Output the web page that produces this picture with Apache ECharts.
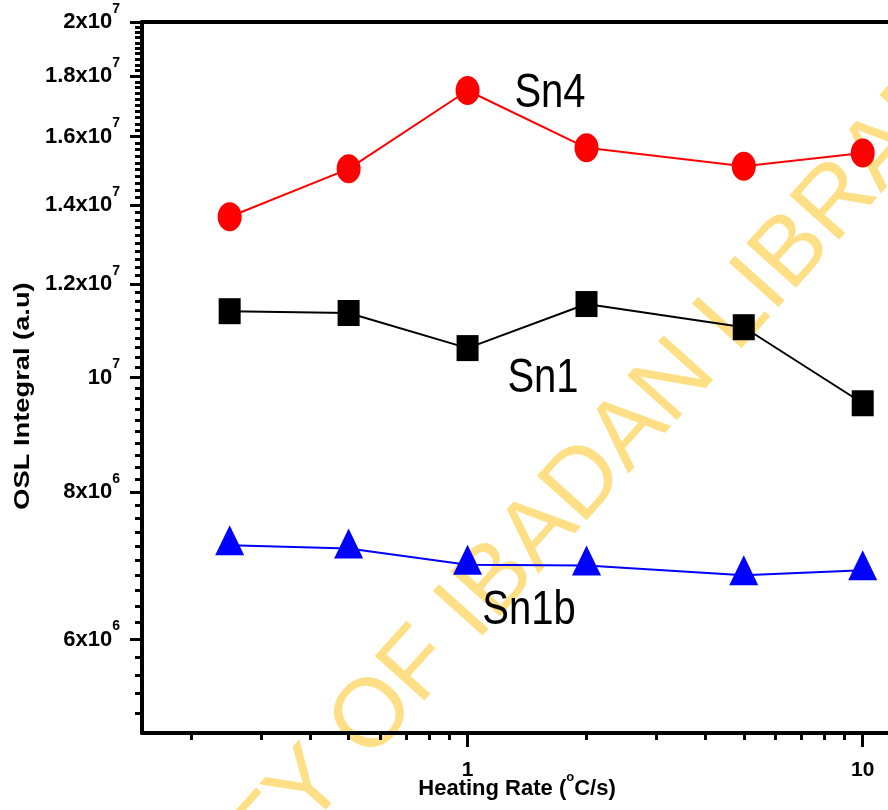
<!DOCTYPE html>
<html>
<head>
<meta charset="utf-8">
<script src="https://cdn.jsdelivr.net/npm/echarts@6/dist/echarts.min.js"></script>
<style>
  html, body { margin: 0; padding: 0; background: #ffffff; }
  #chart { width: 888px; height: 810px; }
</style>
</head>
<body>
<div id="chart"></div>
<script>
// Heating rates (°C/s) and OSL integrals (a.u) for the three samples
const heatingRates = [0.25, 0.5, 1, 2, 5, 10];
const sn4  = [1.368e7, 1.502e7, 1.750e7, 1.565e7, 1.510e7, 1.549e7];
const sn1  = [1.138e7, 1.134e7, 1.059e7, 1.154e7, 1.103e7, 9.51e6];
const sn1b = [7.21e6, 7.166e6, 6.94e6, 6.93e6, 6.80e6, 6.866e6];

// Axis ticks and their labels
const xMajorTicks  = [1, 10];
const xMajorLabels = ['1', '10'];
const xMinorTicks  = [0.2, 0.3, 0.4, 0.5, 0.6, 0.7, 0.8, 0.9, 2, 3, 4, 5, 6, 7, 8, 9];
const yMajorTicks  = [6e6, 8e6, 1e7, 1.2e7, 1.4e7, 1.6e7, 1.8e7, 2e7];
const yMajorMantissa = ['6x10', '8x10', '10', '1.2x10', '1.4x10', '1.6x10', '1.8x10', '2x10'];
const yMajorExponent = ['6', '6', '7', '7', '7', '7', '7', '7'];
const yMinorStep = 2e5;

const xMin = 0.15, xMax = 12;
const yMin = 5e6,  yMax = 2e7;

const FONT = '"Liberation Sans", Arial, Helvetica, sans-serif';

// minor y ticks every 2x10^5, skipping the labelled ones
const yMinorTicks = [];
for (let k = Math.round(yMin / yMinorStep) + 1; k < Math.round(yMax / yMinorStep); k++) {
  const v = k * yMinorStep;
  if (!yMajorTicks.some(t => Math.abs(t - v) < 1)) yMinorTicks.push(v);
}

function findIndex(list, value) {
  for (let i = 0; i < list.length; i++) {
    if (Math.abs(list[i] - value) / list[i] < 1e-6) return i;
  }
  return -1;
}

const pairs = ys => heatingRates.map((x, i) => [x, ys[i]]);

const chart = echarts.init(document.getElementById('chart'), null, { renderer: 'canvas' });

const axisBlack = { color: '#000000' };

const option = {
  animation: false,
  backgroundColor: '#ffffff',
  grid: {
    left: 142, top: 22, width: 752, height: 711,
    containLabel: false, outerBoundsMode: 'none'
  },
  xAxis: [
    {
      type: 'log', logBase: 10, min: xMin, max: xMax, position: 'bottom',
      axisLine: { onZero: false, lineStyle: { color: '#000', width: 4 } },
      axisTick: { customValues: xMajorTicks, length: 14, lineStyle: { color: '#000', width: 3 } },
      axisLabel: {
        customValues: xMajorTicks, margin: 27, color: '#000',
        fontFamily: FONT, fontWeight: 'bold', fontSize: 21,
        formatter: v => { const i = findIndex(xMajorTicks, v); return i < 0 ? '' : xMajorLabels[i]; }
      },
      splitLine: { show: false }, minorTick: { show: false }
    },
    {
      type: 'log', logBase: 10, min: xMin, max: xMax, position: 'bottom',
      axisLine: { show: false, onZero: false },
      axisTick: { customValues: xMinorTicks, length: 7, lineStyle: { color: '#000', width: 3 } },
      axisLabel: { show: false },
      splitLine: { show: false }
    },
    {
      type: 'log', logBase: 10, min: xMin, max: xMax, position: 'top',
      axisLine: { show: true, onZero: false, lineStyle: { color: '#000', width: 4 } },
      axisTick: { show: false }, axisLabel: { show: false }, splitLine: { show: false }
    }
  ],
  yAxis: [
    {
      type: 'log', logBase: 10, min: yMin, max: yMax, position: 'left',
      axisLine: { show: true, onZero: false, lineStyle: { color: '#000', width: 4 } },
      axisTick: { customValues: yMajorTicks, length: 12, lineStyle: { color: '#000', width: 3 } },
      axisLabel: {
        customValues: yMajorTicks, margin: 22, color: '#000',
        formatter: v => {
          const i = findIndex(yMajorTicks, v);
          return i < 0 ? '' : '{m|' + yMajorMantissa[i] + '}{s|' + yMajorExponent[i] + '}';
        },
        rich: {
          m: { fontFamily: FONT, fontWeight: 'bold', fontSize: 22, lineHeight: 40, color: '#000' },
          s: { fontFamily: FONT, fontWeight: 'bold', fontSize: 14, lineHeight: 14, verticalAlign: 'top', color: '#000' }
        }
      },
      splitLine: { show: false }, minorTick: { show: false }
    },
    {
      type: 'log', logBase: 10, min: yMin, max: yMax, position: 'left',
      axisLine: { show: false, onZero: false },
      axisTick: { customValues: yMinorTicks, length: 7, lineStyle: { color: '#000', width: 3 } },
      axisLabel: { show: false },
      splitLine: { show: false }
    }
  ],
  series: [
    {
      name: 'Sn4', type: 'line', xAxisIndex: 0, yAxisIndex: 0, z: 5,
      data: pairs(sn4), symbol: 'circle', symbolSize: [24, 29],
      itemStyle: { color: '#ff0000' }, lineStyle: { color: '#ff0000', width: 2 }
    },
    {
      name: 'Sn1', type: 'line', xAxisIndex: 0, yAxisIndex: 0, z: 5,
      data: pairs(sn1), symbol: 'rect', symbolSize: [22, 26],
      itemStyle: { color: '#000000' }, lineStyle: { color: '#000000', width: 2 }
    },
    {
      name: 'Sn1b', type: 'line', xAxisIndex: 0, yAxisIndex: 0, z: 5,
      data: pairs(sn1b), symbol: 'triangle', symbolSize: [29, 30], symbolOffset: [0, -5],
      itemStyle: { color: '#0000ff' }, lineStyle: { color: '#0000ff', width: 2 }
    }
  ],
  graphic: [
    {
      type: 'text', z: -100, x: 467, y: 613, rotation: 48 * Math.PI / 180,
      silent: true,
      style: {
        x: 0, y: 0, text: 'UNIVERSITY OF IBADAN LIBRARY',
        fontFamily: FONT, fontSize: 97, fill: '#FFDF85',
        align: 'center', verticalAlign: 'middle', textAlign: 'center', textVerticalAlign: 'middle'
      }
    },
    {
      type: 'text', z: 10, x: 550, y: 94, scaleY: 1.22,
      style: { x: 0, y: 0, text: 'Sn4', fontFamily: FONT, fontSize: 40, fill: '#000',
        align: 'center', verticalAlign: 'middle', textAlign: 'center', textVerticalAlign: 'middle' }
    },
    {
      type: 'text', z: 10, x: 543, y: 379, scaleY: 1.22,
      style: { x: 0, y: 0, text: 'Sn1', fontFamily: FONT, fontSize: 40, fill: '#000',
        align: 'center', verticalAlign: 'middle', textAlign: 'center', textVerticalAlign: 'middle' }
    },
    {
      type: 'text', z: 10, x: 529, y: 611, scaleY: 1.22,
      style: { x: 0, y: 0, text: 'Sn1b', fontFamily: FONT, fontSize: 40, fill: '#000',
        align: 'center', verticalAlign: 'middle', textAlign: 'center', textVerticalAlign: 'middle' }
    },
    {
      type: 'text', z: 10, x: 517, y: 789,
      style: {
        x: 0, y: 0, text: '{m|Heating Rate (}{s|o}{m|C/s)}',
        align: 'center', verticalAlign: 'middle', textAlign: 'center', textVerticalAlign: 'middle',
        rich: {
          m: { fontFamily: FONT, fontWeight: 'bold', fontSize: 22, lineHeight: 36, fill: '#000' },
          s: { fontFamily: FONT, fontWeight: 'bold', fontSize: 13, lineHeight: 13, verticalAlign: 'top', fill: '#000' }
        }
      }
    },
    {
      type: 'text', z: 10, x: 23, y: 396, rotation: Math.PI / 2, scaleX: 1.24,
      style: {
        x: 0, y: 0, text: 'OSL Integral (a.u)', fontFamily: FONT, fontWeight: 'bold', fontSize: 22, fill: '#000',
        align: 'center', verticalAlign: 'middle', textAlign: 'center', textVerticalAlign: 'middle'
      }
    }
  ]
};

chart.setOption(option);
</script>
</body>
</html>
